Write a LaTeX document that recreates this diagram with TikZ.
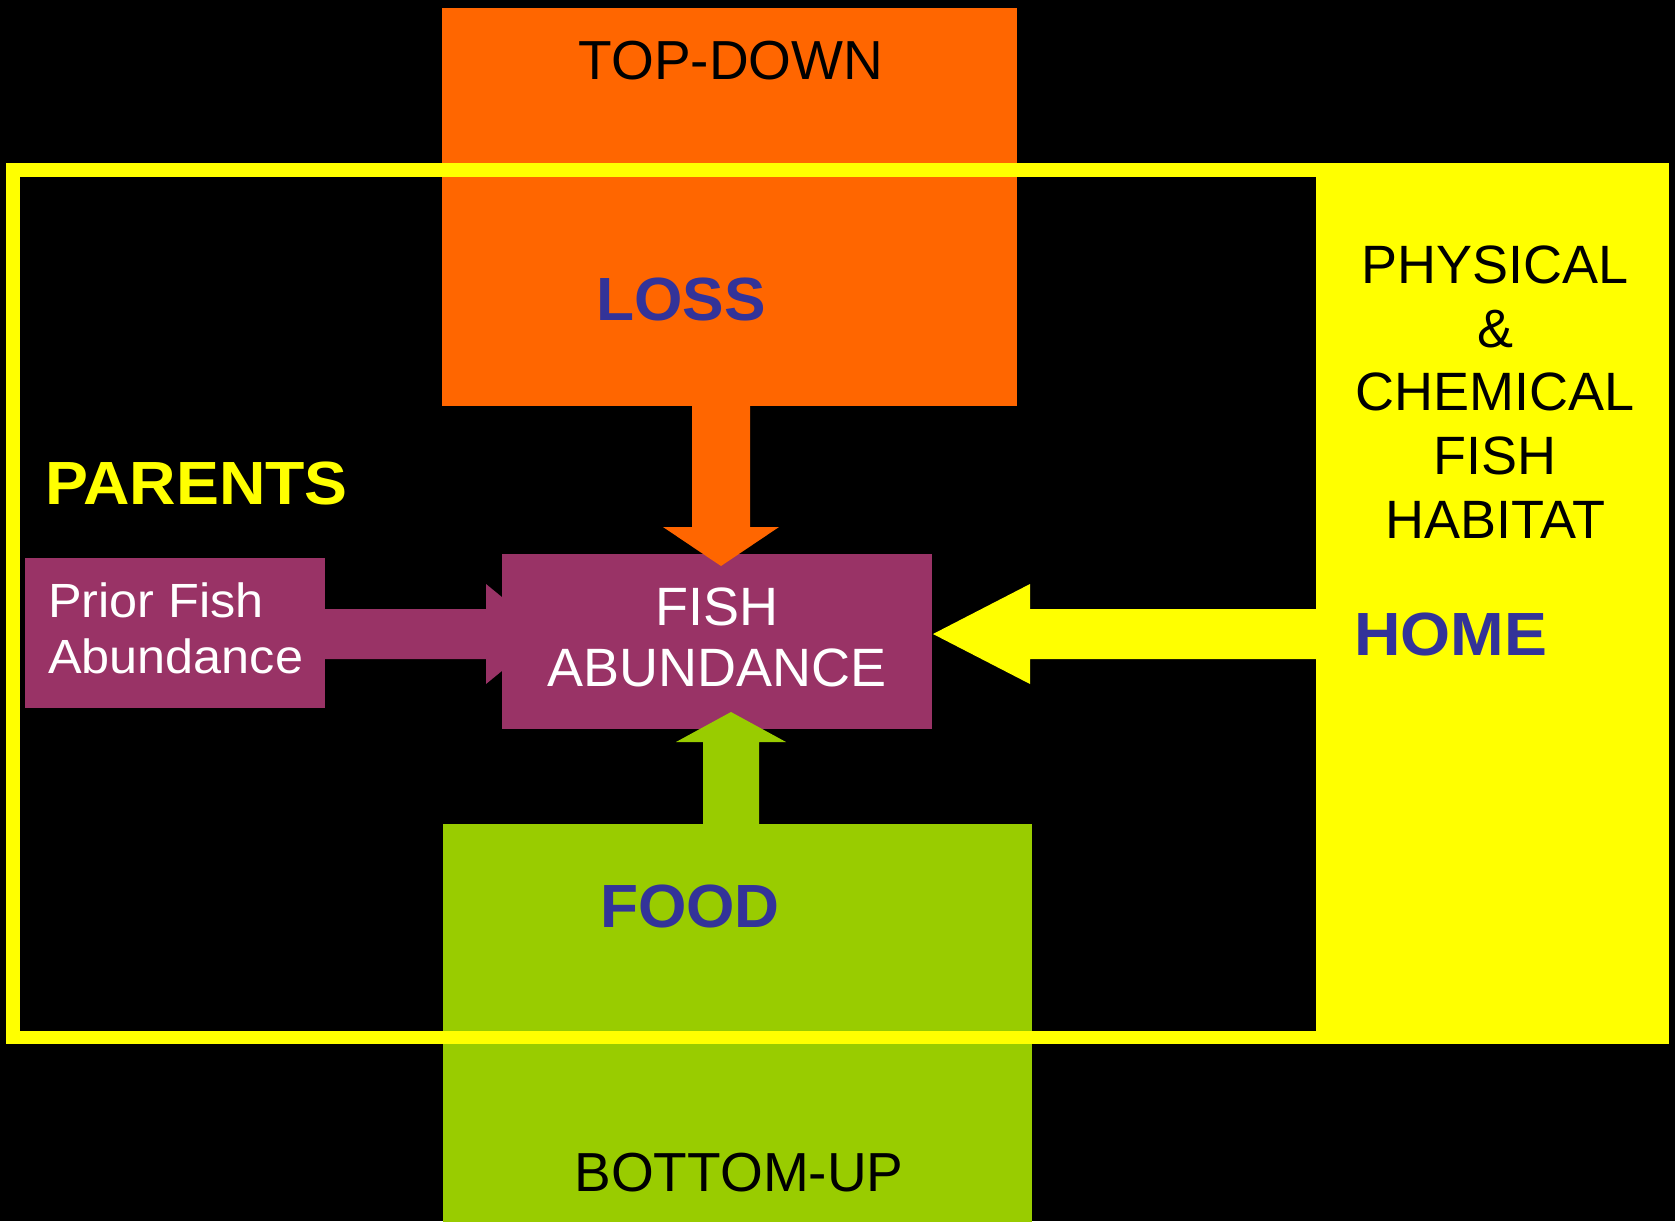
\documentclass[tikz,border=0pt]{standalone}
\usepackage{fontspec}
\setmainfont{Liberation Sans}
\usetikzlibrary{calc}
\definecolor{orng}{HTML}{FF6600}
\definecolor{grn}{HTML}{99CC00}
\definecolor{purp}{HTML}{993366}
\definecolor{yel}{HTML}{FFFF00}
\definecolor{navy}{HTML}{333399}
\begin{document}
\begin{tikzpicture}[x=1pt,y=-1pt,
  box/.style={fill=#1, draw=none, inner sep=0pt, outer sep=0pt, anchor=north west},
  hand/.style={inner sep=0pt, font=\fontsize{55}{66}\selectfont, text=black},
  bigbold/.style={inner sep=0pt, font=\fontsize{61}{70}\selectfont\bfseries\addfontfeature{FakeStretch=#1}, text=navy},
  bigbold/.default=1.02,
  frameline/.style={draw=yel, line width=13.5pt}]
\fill[black] (0,0) rectangle (1675,1221);
\useasboundingbox (0,0) rectangle (1675,1221);
% boxes
\node[box=orng, minimum width=575pt, minimum height=398pt] (topbox) at (442,8) {};
\node[box=grn, minimum width=589pt, minimum height=400pt] (botbox) at (443,824) {};
\node[box=yel, minimum width=353pt, minimum height=881pt] (panel) at (1316,163) {};
% prior arrow (behind fish box)
\coordinate (pS) at (325,634);
\coordinate (pT) at (547,634);
\fill[purp] ($(pS)+(0,-25)$) -- ($(pT)+(-61,-25)$) -- ($(pT)+(-61,-50)$) -- (pT)
  -- ($(pT)+(-61,50)$) -- ($(pT)+(-61,25)$) -- ($(pS)+(0,25)$) -- cycle;
\node[box=purp, minimum width=430pt, minimum height=175pt] (fishbox) at (502,554) {};
\node[box=purp, minimum width=300pt, minimum height=150pt] (priorbox) at (25,558) {};
% orange arrow (down)
\coordinate (oS) at (topbox.south -| 721,0);
\coordinate (oT) at (721,566);
\fill[orng] ($(oS)+(-29,0)$) -- ($(oT)+(-29,-39)$) -- ($(oT)+(-58,-39)$) -- (oT)
  -- ($(oT)+(58,-39)$) -- ($(oT)+(29,-39)$) -- ($(oS)+(29,0)$) -- cycle;
% green arrow (up)
\coordinate (gS) at (botbox.north -| 731,0);
\coordinate (gT) at (731,712);
\fill[grn] ($(gS)+(-28,0)$) -- ($(gT)+(-28,30)$) -- ($(gT)+(-55,30)$) -- (gT)
  -- ($(gT)+(55,30)$) -- ($(gT)+(28,30)$) -- ($(gS)+(28,0)$) -- cycle;
% yellow arrow (left)
\coordinate (yS) at (panel.west |- 0,634);
\coordinate (yT) at (933,634);
\fill[yel] ($(yS)+(0,-25)$) -- ($(yT)+(97,-25)$) -- ($(yT)+(97,-50)$) -- (yT)
  -- ($(yT)+(97,50)$) -- ($(yT)+(97,25)$) -- ($(yS)+(0,25)$) -- cycle;
% frame
\draw[frameline] (13,170) rectangle (1322.5,1037.5);
% texts
\node[hand] (td) at (731,61) {TOP-DOWN};
\node[bigbold] (loss) at (681,299) {LOSS};
\node[bigbold=1.055, text=yel, anchor=west] (parents) at (45,483) {PARENTS};
\node[bigbold=1.055, anchor=west] (home) at (1354,634) {HOME};
\node[bigbold] (food) at (690,906) {FOOD};
\node[hand] (bu) at (739,1173) {BOTTOM-UP};
\node[inner sep=0pt, text=white, align=center, font=\fontsize{54}{61}\selectfont] (fa) at (717,637) {FISH\\ABUNDANCE};
\node[inner sep=0pt, text=white, align=left, anchor=west, font=\fontsize{48}{56}\selectfont\addfontfeature{FakeStretch=1.05}] (pfa) at (48,628) {Prior Fish\\Abundance};
\node[inner sep=0pt, text=black, align=center, font=\fontsize{54}{63.75}\selectfont] (phys) at (1495,392) {PHYSICAL\\\&\\CHEMICAL\\FISH\\HABITAT};
\end{tikzpicture}
\end{document}
